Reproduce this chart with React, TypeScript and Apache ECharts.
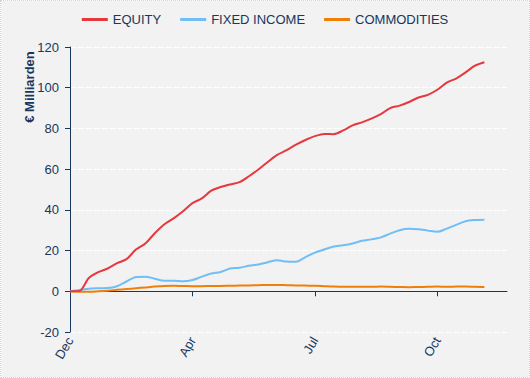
import React, { useEffect, useRef } from "react";
import * as echarts from "echarts";

const weeks: number[] = Array.from({ length: 45 }, (_, i) => i);

const equity: number[] = [
  0, 0.2, 6.5, 9.4, 11.2, 13.8, 15.8, 20.5, 23.5, 28.5, 32.8, 35.8, 39.3, 43.3, 45.6,
  49.4, 51.2, 52.5, 53.6, 56.5, 59.8, 63.5, 67, 69.3, 72, 74.3, 76.2, 77.3, 77.2, 79,
  81.5, 83, 84.8, 87, 90, 91.2, 93, 95.2, 96.5, 99, 102.5, 104.5, 107.5, 110.8, 112.5,
];

const fixedIncome: number[] = [
  0, 0.6, 1.3, 1.5, 1.6, 2.5, 4.8, 7, 7.2, 6.2, 5.2, 5.2, 4.9, 5.5, 7.2, 8.7, 9.5, 11.2,
  11.6, 12.5, 13.2, 14.3, 15.2, 14.6, 14.5, 16.8, 19, 20.5, 22, 22.6, 23.5, 24.8, 25.5,
  26.5, 28.3, 30, 30.7, 30.5, 29.8, 29.2, 30.8, 32.6, 34.4, 35, 35.2,
];

const commodities: number[] = [
  0, -0.2, -0.2, 0, 0.3, 0.7, 1.1, 1.5, 1.9, 2.3, 2.6, 2.7, 2.6, 2.5, 2.5, 2.6, 2.6, 2.7,
  2.8, 2.9, 3.0, 3.1, 3.1, 3.0, 2.9, 2.8, 2.7, 2.5, 2.3, 2.2, 2.2, 2.2, 2.2, 2.3, 2.2,
  2.1, 2.0, 2.1, 2.2, 2.3, 2.2, 2.3, 2.4, 2.2, 2.1,
];

const tickWeeks: number[] = [0, 13, 26, 39];
const tickLabels: string[] = ["Dec", "Apr", "Jul", "Oct"];

const seriesNames = ["EQUITY", "FIXED INCOME", "COMMODITIES"];
const seriesColors = ["#e5383f", "#71bdf6", "#f07f09"];

const NAVY = "#17375e";
const FONT = "Liberation Sans, Arial, sans-serif";

export default function App() {
  const ref = useRef<HTMLDivElement>(null);

  useEffect(() => {
    if (!ref.current) return;
    const chart = echarts.init(ref.current, undefined, { renderer: "svg" });
    const all = [equity, fixedIncome, commodities];
    const xMax = 46.4;
    chart.setOption({
      animation: false,
      backgroundColor: "#f2f2f2",
      textStyle: { fontFamily: FONT },
      legend: {
        top: 7,
        left: "center",
        itemWidth: 26,
        itemHeight: 3,
        itemGap: 19,
        icon: "rect",
        textStyle: { color: NAVY, fontSize: 13, fontFamily: FONT },
        data: seriesNames,
      },
      grid: { left: 69, right: 22, top: 46, bottom: 45, containLabel: false },
      xAxis: [
        {
          type: "value",
          min: 0,
          max: xMax,
          position: "bottom",
          axisLine: { show: false, onZero: false },
          axisTick: { show: false },
          splitLine: { show: false },
          axisLabel: {
            customValues: tickWeeks,
            rotate: 60,
            color: NAVY,
            fontSize: 13,
            fontFamily: FONT,
            margin: 6,
            formatter: (v: number) => {
              const i = tickWeeks.indexOf(Math.round(v));
              return i >= 0 ? tickLabels[i] : "";
            },
          },
        },
        {
          type: "value",
          min: 0,
          max: xMax,
          position: "bottom",
          axisLine: { show: true, onZero: true, lineStyle: { color: NAVY, width: 1 } },
          axisTick: {
            show: true,
            customValues: tickWeeks,
            length: 5,
            lineStyle: { color: NAVY },
          },
          axisLabel: { show: false },
          splitLine: { show: false },
        },
      ],
      yAxis: {
        type: "value",
        min: -20,
        max: 120,
        interval: 20,
        axisLine: { show: true, lineStyle: { color: NAVY, width: 1 } },
        axisTick: { show: true, length: 5, lineStyle: { color: NAVY } },
        axisLabel: { color: NAVY, fontSize: 13, fontFamily: FONT, margin: 11 },
        splitLine: { show: true, lineStyle: { color: "#ffffff", width: 1, type: [6, 2] } },
      },
      graphic: [
        {
          type: "text",
          x: 28,
          y: 86,
          rotation: Math.PI / 2,
          style: {
            text: "€ Milliarden",
            fill: NAVY,
            font: `bold 13px ${FONT}`,
            textAlign: "center",
            textVerticalAlign: "middle",
          },
        },
      ],
      series: seriesNames.map((name, k) => ({
        name,
        type: "line",
        xAxisIndex: 0,
        smooth: 0.3,
        symbol: "none",
        color: seriesColors[k],
        lineStyle: { width: 2, color: seriesColors[k] },
        data: weeks.map((w, i) => [w, all[k][i]]),
        z: 5 - k,
      })),
    });
    return () => chart.dispose();
  }, []);

  return (
    <div
      ref={ref}
      style={{
        position: "absolute",
        left: 0,
        top: 0,
        width: 530,
        height: 378,
        boxSizing: "border-box",
        border: "1px dotted #d4d4d4",
      }}
    />
  );
}
